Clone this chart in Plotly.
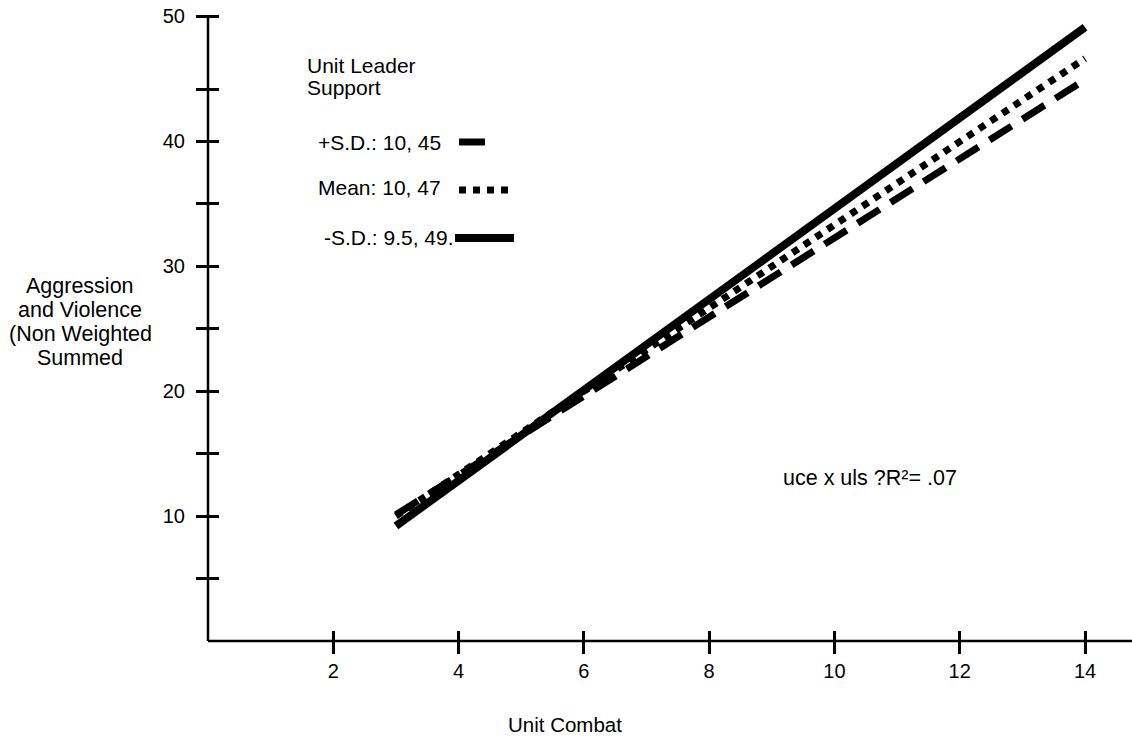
import plotly.graph_objects as go

# ---- data ----
x_vals = [3, 14]
plus_sd = [10.1, 44.9]
mean_vals = [10.0, 46.6]
minus_sd = [9.2, 49.1]

x_ticks = [2, 4, 6, 8, 10, 12, 14]
x_ticktext = ["2", "4", "6", "8", "10", "12", "14"]
y_ticks = [5, 10, 15, 20, 25, 30, 35, 40, 44.1, 50]
y_ticktext = ["", "10", "", "20", "", "30", "", "40", "", "50"]

legend_title_lines = ["Unit Leader", "Support"]
legend_labels = ["+S.D.: 10, 45", "Mean: 10, 47", "-S.D.: 9.5, 49."]
note_text = "uce x uls ?R\u00b2= .07"
x_title = "Unit Combat"
y_title_lines = ["Aggression", "and Violence", "(Non Weighted", "Summed"]

W, H = 1132, 736
ML, MR, MT, MB = 208, 0, 16, 95
PW, PH = W - ML - MR, H - MT - MB


def px(x):
    return (x - ML) / PW


def py(y):
    return 1 - (y - MT) / PH


FONT = "Liberation Sans, Arial, sans-serif"
LW = 7
TICK_IN = 11   # part of each cross tick inside the plot
TICK_OUT = 12  # part outside

fig = go.Figure()
fig.add_trace(go.Scatter(x=x_vals, y=plus_sd, mode="lines",
                         line=dict(color="black", width=LW, dash="26px,13px"),
                         showlegend=False))
fig.add_trace(go.Scatter(x=x_vals, y=mean_vals, mode="lines",
                         line=dict(color="black", width=LW, dash="dot"),
                         showlegend=False))
fig.add_trace(go.Scatter(x=x_vals, y=minus_sd, mode="lines",
                         line=dict(color="black", width=LW + 1),
                         showlegend=False))

axis_common = dict(showgrid=False, zeroline=False, showline=False,
                   tickcolor="black", tickwidth=2.5, ticks="outside",
                   ticklen=TICK_IN + TICK_OUT, anchor="free")

fig.update_layout(
    width=W, height=H,
    margin=dict(l=ML, r=MR, t=MT, b=MB, pad=0),
    paper_bgcolor="white", plot_bgcolor="white",
    font=dict(family=FONT, size=20, color="black"),
    xaxis=dict(range=[0, 14.75], tickmode="array", tickvals=x_ticks,
               ticktext=x_ticktext, ticklabelstandoff=0, tickfont=dict(size=20),
               position=TICK_IN / PH, **axis_common),
    yaxis=dict(range=[0, 50], tickmode="array", tickvals=y_ticks,
               ticktext=y_ticktext, ticklabelstandoff=7, tickfont=dict(size=20),
               position=TICK_IN / PW, **axis_common),
)

# axis lines along the plot edges
fig.add_shape(type="line", xref="paper", yref="paper", x0=0, x1=0, y0=0, y1=1,
              line=dict(color="black", width=2.5), layer="above")
fig.add_shape(type="line", xref="paper", yref="paper", x0=0, x1=1, y0=0, y1=0,
              line=dict(color="black", width=2.5), layer="above")

ann = []


def add_text(t, x, y, size, xanchor="center"):
    ann.append(dict(text=t, x=px(x), y=py(y), xref="paper", yref="paper",
                    xanchor=xanchor, yanchor="middle", showarrow=False,
                    font=dict(size=size)))


for i, t in enumerate(y_title_lines):
    add_text(t, 80, 286 + 24 * i, 21.5)
add_text(x_title, 565, 724, 20.5)
for i, t in enumerate(legend_title_lines):
    add_text(t, 305, 66 + 22 * i, 21, xanchor="left")
leg_x = [316, 316, 322]
leg_y = [142, 187, 238]
for t, lx, ly in zip(legend_labels, leg_x, leg_y):
    add_text(t, lx, ly, 21, xanchor="left")
add_text(note_text, 870, 478, 21.5)
fig.update_layout(annotations=ann)

# legend keys
keys = [((459, 491), 142, "26px,13px", LW),
        ((459, 511), 190, "dot", LW),
        ((455, 514), 238, "solid", LW + 1)]
for (x0, x1), ky, dash, w in keys:
    fig.add_shape(type="line", xref="paper", yref="paper",
                  x0=px(x0), x1=px(x1), y0=py(ky), y1=py(ky),
                  line=dict(color="black", width=w, dash=dash))

fig.write_html("out.html")
